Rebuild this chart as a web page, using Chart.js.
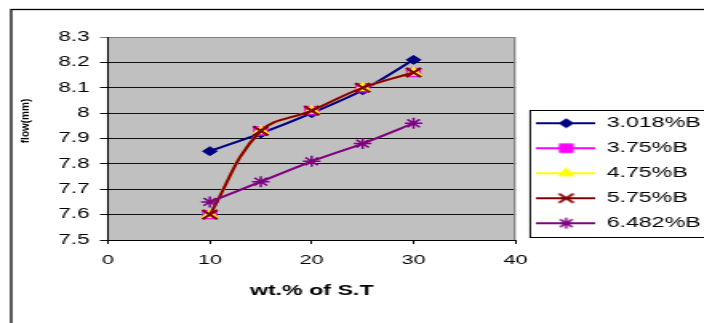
<!DOCTYPE html>
<html>
<head>
<meta charset="utf-8">
<script src="https://cdn.jsdelivr.net/npm/chart.js"></script>
<style>
  html, body { margin: 0; padding: 0; background: #fff; overflow: hidden; }
  /* the source picture is stretched sideways, so the whole chart is too */
  #wrap { width: 460px; height: 340px; transform: scaleX(1.6); transform-origin: 0 0; }
</style>
</head>
<body>
<div id="wrap"><canvas id="chart1" width="460" height="340"></canvas></div>
<script>
const STRETCH = 1.6;

const xValues = [10, 15, 20, 25, 30];
const flow3018 = [7.85, 7.92, 8.0, 8.09, 8.21];
const flow375 = [7.6, 7.93, 8.01, 8.1, 8.16];
const flow475 = [7.6, 7.93, 8.01, 8.1, 8.16];
const flow575 = [7.6, 7.93, 8.01, 8.1, 8.16];
const flow6482 = [7.65, 7.73, 7.81, 7.88, 7.96];
const seriesNames = ["3.018%B", "3.75%B", "4.75%B", "5.75%B", "6.482%B"];
const xTitle = "wt.% of S.T";
const yTitle = "flow(mm)";

Chart.defaults.font.family = "'Liberation Sans', Arial, sans-serif";
Chart.defaults.color = "#000";

function points(ys) {
  return xValues.map((x, i) => ({ x: x, y: ys[i] }));
}

function series(i, ys, color, style, radius, width, tension) {
  return {
    label: seriesNames[i],
    data: points(ys),
    borderColor: color,
    backgroundColor: color,
    borderWidth: 2,
    pointStyle: style,
    pointRadius: radius,
    pointHoverRadius: radius,
    pointBackgroundColor: color,
    pointBorderColor: color,
    pointBorderWidth: width,
    tension: tension,
    fill: false,
    order: 5 - i, // later series on top, like the original
  };
}

// line sample with the marker in the middle
function legendIcon(ds) {
  const c = document.createElement("canvas");
  c.width = 37;
  c.height = 16;
  const g = c.getContext("2d");
  g.strokeStyle = ds.borderColor;
  g.lineWidth = 2;
  g.beginPath();
  g.moveTo(0, 8);
  g.lineTo(37, 8);
  g.stroke();
  g.fillStyle = ds.pointBackgroundColor;
  g.strokeStyle = ds.pointBorderColor;
  g.lineWidth = ds.pointBorderWidth;
  Chart.helpers.drawPoint(g, {
    pointStyle: ds.pointStyle,
    radius: ds.pointRadius,
    rotation: 0,
    borderWidth: ds.pointBorderWidth,
  }, 18.5, 8);
  return c;
}

const frame = {
  id: "frame",
  beforeDraw(chart) {
    const { ctx, chartArea: a } = chart;
    ctx.save();
    // outer chart border
    ctx.strokeStyle = "#000";
    ctx.lineWidth = 1.3;
    ctx.strokeRect(7, 9.5, chart.width + 20, chart.height + 20);
    // plot area
    ctx.fillStyle = "#c0c0c0";
    ctx.fillRect(a.left, a.top, a.right - a.left, a.bottom - a.top);
    ctx.restore();
  },
  beforeDatasetsDraw(chart) {
    const { ctx, chartArea: a } = chart;
    ctx.save();
    ctx.strokeStyle = "#808080";
    ctx.lineWidth = 1.2;
    ctx.beginPath();
    ctx.moveTo(a.right - 0.5, a.top);
    ctx.lineTo(a.right - 0.5, a.bottom);
    ctx.stroke();
    ctx.restore();
  },
  afterDraw(chart) {
    const { ctx } = chart;
    const hb = chart.legend.legendHitBoxes;
    ctx.save();
    // legend box
    const last = hb[hb.length - 1];
    const top = hb[0].top - 6;
    const bottom = last.top + last.height + 6.5;
    ctx.strokeStyle = "#000";
    ctx.lineWidth = 1;
    ctx.strokeRect(hb[0].left - 5 + 0.5, top + 0.5, chart.width, bottom - top);
    // y title, drawn less stretched
    ctx.translate(16, 121);
    ctx.scale(1.25 / STRETCH, 1);
    ctx.rotate(-Math.PI / 2);
    ctx.font = "bold 10px 'Liberation Sans', Arial, sans-serif";
    ctx.fillStyle = "#000";
    ctx.textAlign = "center";
    ctx.textBaseline = "middle";
    ctx.fillText(yTitle, 0, 0);
    ctx.restore();
  },
};

new Chart("chart1", {
  type: "line",
  data: {
    datasets: [
      series(0, flow3018, "#000080", "rectRot", 4.5, 1, 0.25),
      series(1, flow375, "#ff00ff", "rect", 6, 1, 0.4),
      series(2, flow475, "#ffff00", "triangle", 5.5, 1, 0.4),
      series(3, flow575, "#800000", "crossRot", 6.5, 2, 0.4),
      series(4, flow6482, "#800080", "star", 5.5, 1.5, 0.2),
    ],
  },
  options: {
    responsive: false,
    animation: false,
    devicePixelRatio: 1,
    events: [],
    layout: {
      padding: { top: 37, left: 10, right: 12, bottom: 30.5 },
    },
    plugins: {
      tooltip: { enabled: false },
      legend: {
        position: "right",
        align: "center",
        maxWidth: 200,
        labels: {
          usePointStyle: true,
          pointStyleWidth: 36,
          padding: 10.5,
          color: "#000",
          font: { size: 14.5 },
          generateLabels: (chart) =>
            chart.data.datasets.map((ds, i) => ({
              text: ds.label,
              pointStyle: legendIcon(ds),
              fillStyle: ds.backgroundColor,
              strokeStyle: ds.borderColor,
              lineWidth: 0,
              fontColor: "#000",
              hidden: !chart.isDatasetVisible(i),
              datasetIndex: i,
            })),
        },
      },
    },
    scales: {
      x: {
        type: "linear",
        position: "bottom",
        min: 0,
        max: 40,
        afterFit: (scale) => { scale.height = 69.5; },
        ticks: { stepSize: 10, padding: 8, font: { size: 13.5 }, color: "#000", maxRotation: 0 },
        grid: { drawOnChartArea: false, drawTicks: true, tickLength: 4, color: "#000" },
        border: { display: true, color: "#000", width: 1 },
        title: {
          display: true,
          text: xTitle,
          font: { size: 14.5, weight: "bold" },
          color: "#000",
          padding: { top: 4, bottom: 9.6 },
        },
      },
      y: {
        type: "linear",
        position: "left",
        min: 7.5,
        max: 8.3,
        afterFit: (scale) => { scale.width = 57.5; },
        ticks: {
          stepSize: 0.1,
          autoSkip: false,
          padding: 6.5,
          font: { size: 14 },
          color: "#000",
          callback: (v) => String(+v.toFixed(1)),
        },
        grid: {
          drawOnChartArea: true,
          tickLength: 5,
          color: (c) => (c.index === 8 ? "#808080" : "#111"),
          lineWidth: 1,
        },
        border: { display: true, color: "#000", width: 1 },
      },
      // empty strip between the plot and the legend
      gap: {
        type: "linear",
        position: "right",
        display: true,
        afterFit: (scale) => { scale.width = 3.25; },
        ticks: { display: false },
        grid: { display: false },
        border: { display: false },
      },
    },
  },
  plugins: [frame],
});
</script>
</body>
</html>
